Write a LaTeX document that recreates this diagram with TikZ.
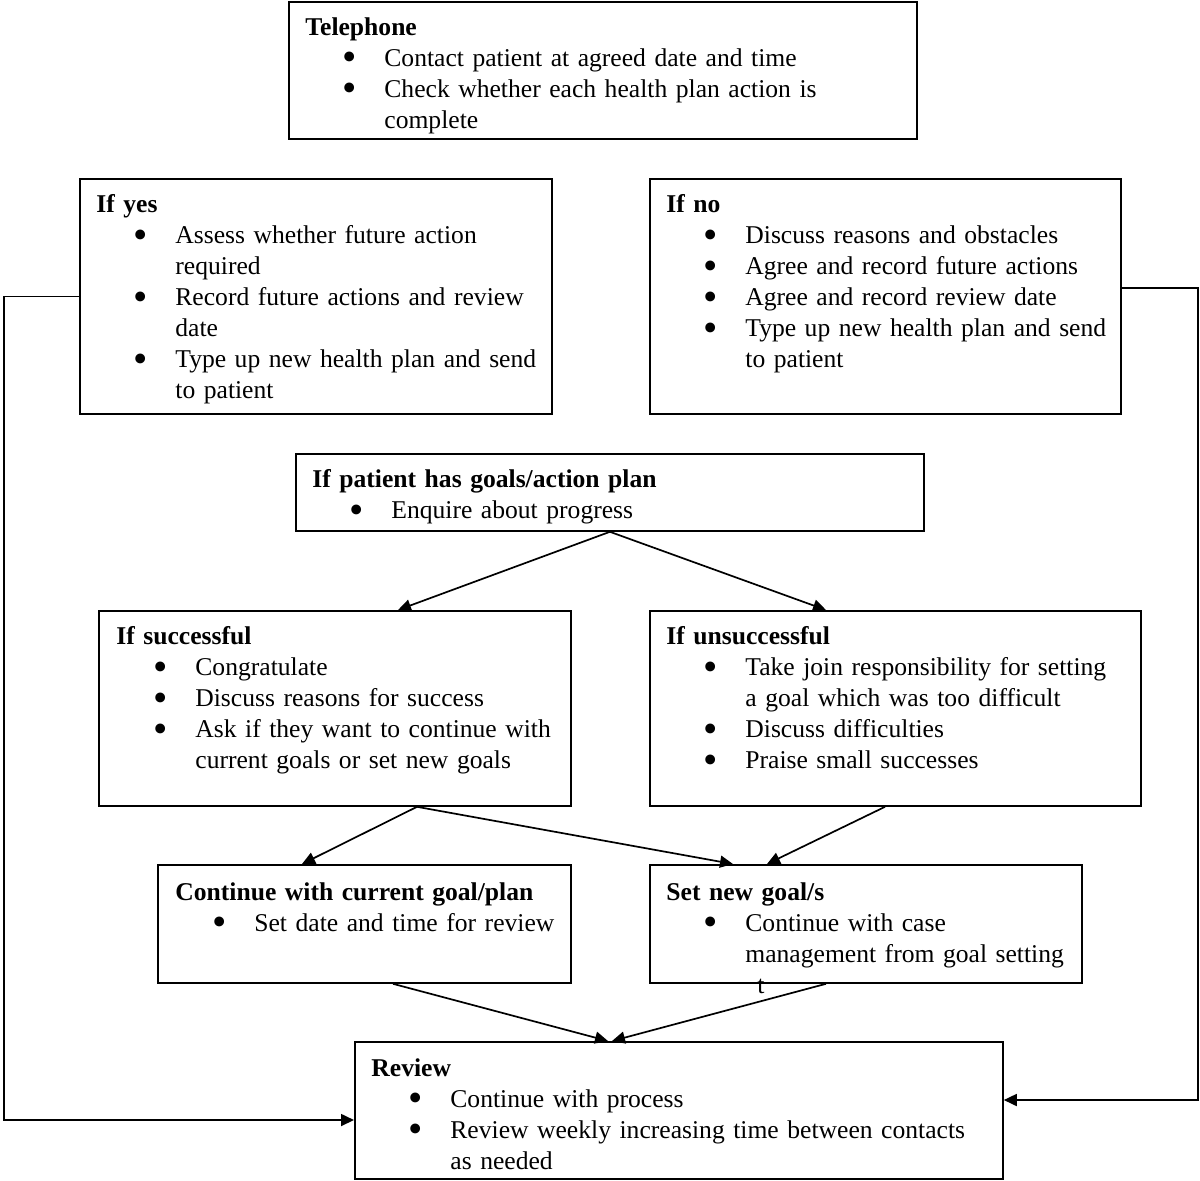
\documentclass[tikz,border=0pt]{standalone}
\usepackage{fontspec}
\setmainfont{Liberation Serif}
\usetikzlibrary{calc,arrows.meta}
\newcommand{\itm}[1]{\par\hangindent=39.5pt\hangafter=0\noindent\llap{\smash{\raisebox{-2.4pt}{\scalebox{1.6}{\textbullet}}}\hspace{14pt}}#1\par}
\tikzset{
    box/.style={draw,line width=0.9pt,inner sep=0pt,anchor=north west},
    txt/.style={anchor=north west,inner sep=0pt,align=left,font=\fontsize{12.8}{15.5}\selectfont\setlength{\parindent}{0pt}},
    link/.style={line width=0.85pt,-{Triangle[length=6.5pt,width=6pt]}},
  }
\begin{document}
\begin{tikzpicture}[x=0.5pt,y=-0.5pt]
				  \useasboundingbox (0,0) rectangle (1200,1180);
				  %BOXES
				  \node[box,minimum width=314pt,minimum height=68.5pt] (tel) at (288,1) {};
				  \node[box,minimum width=236pt,minimum height=117.5pt] (yes) at (79,178) {};
				  \node[box,minimum width=235.5pt,minimum height=117.5pt] (no) at (649,178) {};
				  \node[box,minimum width=314pt,minimum height=38.5pt] (goals) at (295,453) {};
				  \node[box,minimum width=236pt,minimum height=97.5pt] (succ) at (98,610) {};
				  \node[box,minimum width=245.5pt,minimum height=97.5pt] (unsucc) at (649,610) {};
				  \node[box,minimum width=206.5pt,minimum height=59pt] (cont) at (157,864) {};
				  \node[box,minimum width=216pt,minimum height=59pt] (setnew) at (649,864) {};
				  \node[box,minimum width=324pt,minimum height=68.5pt] (review) at (354,1041) {};
				  %TEXTS
				  \node[txt,text width=314pt] (tel-t) at ($(tel.north west)+(17,16)$) {\textbf{Telephone}
				    \itm{Contact patient at agreed date and time}
				    \itm{Check whether each health plan action is\newline complete}};
				  \node[txt,text width=236pt] (yes-t) at ($(yes.north west)+(17,16)$) {\textbf{If yes}
				    \itm{Assess whether future action\newline required}
				    \itm{Record future actions and review\newline date}
				    \itm{Type up new health plan and send\newline to patient}};
				  \node[txt,text width=236pt] (no-t) at ($(no.north west)+(17,16)$) {\textbf{If no}
				    \itm{Discuss reasons and obstacles}
				    \itm{Agree and record future actions}
				    \itm{Agree and record review date}
				    \itm{Type up new health plan and send\newline to patient}};
				  \node[txt,text width=314pt] (goals-t) at ($(goals.north west)+(17,16)$) {\textbf{If patient has goals/action plan}
				    \itm{Enquire about progress}};
				  \node[txt,text width=236pt] (succ-t) at ($(succ.north west)+(18,16)$) {\textbf{If successful}
				    \itm{Congratulate}
				    \itm{Discuss reasons for success}
				    \itm{Ask if they want to continue with\newline current goals or set new goals}};
				  \node[txt,text width=245pt] (unsucc-t) at ($(unsucc.north west)+(17,16)$) {\textbf{If unsuccessful}
				    \itm{Take join responsibility for setting\newline a goal which was too difficult}
				    \itm{Discuss difficulties}
				    \itm{Praise small successes}};
				  \node[txt,text width=206pt] (cont-t) at ($(cont.north west)+(18,18)$) {\textbf{Continue with current goal/plan}
				    \itm{Set date and time for review}};
				  \node[txt,text width=216pt] (setnew-t) at ($(setnew.north west)+(17,18)$) {\textbf{Set new goal/s}
				    \itm{Continue with case\newline management from goal setting\newline \hspace*{6pt}t}};
				  \node[txt,text width=324pt] (review-t) at ($(review.north west)+(17,17)$) {\textbf{Review}
				    \itm{Continue with process}
				    \itm{Review weekly increasing time between contacts\newline as needed}};
				  %LINKS
				  \draw[link] (yes.west) -- ++(-75,0) |- ($(review.north west)+(0,79)$);
				  \draw[link] ($(no.north east)+(0,110)$) -- ++(76,0) |- ($(review.north east)+(0,59)$);
				  \draw[link] (goals.south) -- ($(succ.north west)+(300,0)$);
				  \draw[link] (goals.south) -- ($(unsucc.north west)+(177,0)$);
				  \coordinate (s) at ($(succ.south west)+(319,0)$);
				  \draw[link] (s) -- ($(cont.north west)+(145,0)$);
				  \draw[link] (s) -- ($(setnew.north west)+(84,0)$);
				  \draw[link] ($(unsucc.south west)+(236,0)$) -- ($(setnew.north west)+(118,0)$);
				  \draw[link] ($(cont.south west)+(236,0)$) -- ($(review.north west)+(254,0)$);
				  \draw[link] ($(setnew.south west)+(177,0)$) -- ($(review.north west)+(258,0)$);
				  \end{tikzpicture}
\end{document}
